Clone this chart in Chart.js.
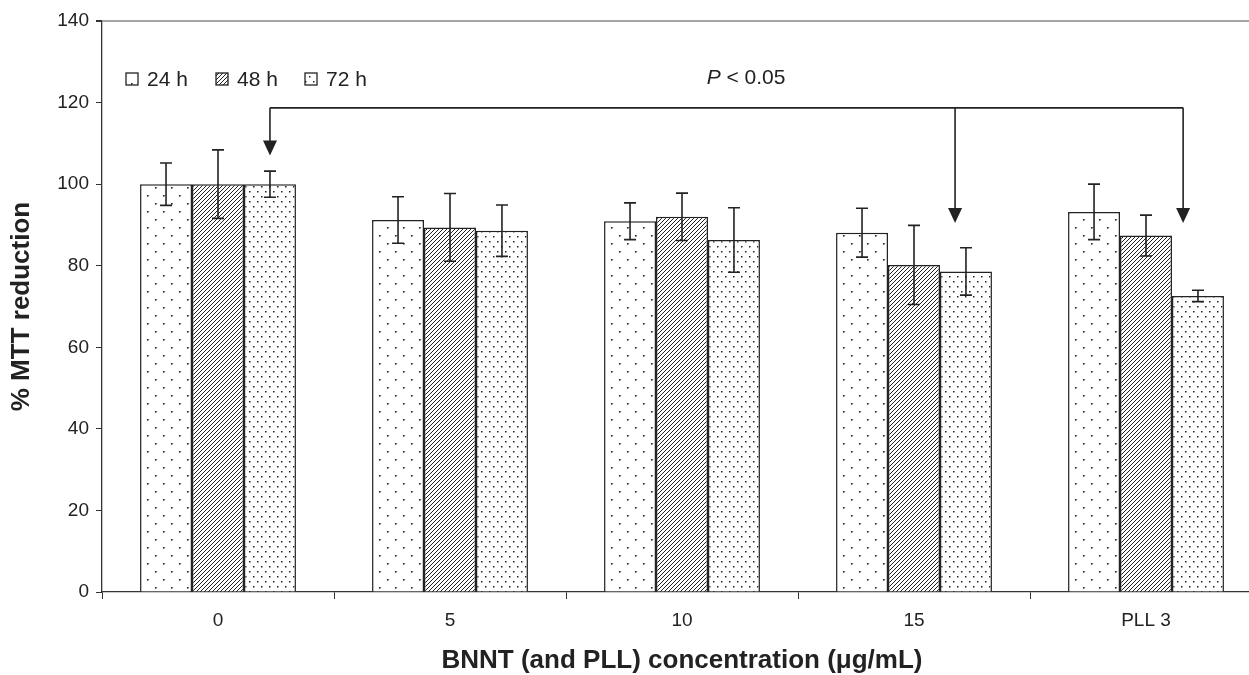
<!DOCTYPE html>
<html>
<head>
<meta charset="utf-8">
<script src="https://cdn.jsdelivr.net/npm/chart.js@4.4.1/dist/chart.umd.min.js"></script>
<style>
  html, body { margin: 0; padding: 0; background: #fff; overflow: hidden; }
  #wrap { width: 1280px; height: 676px; }
</style>
</head>
<body>
<div id="wrap"><canvas id="mttChart" width="1280" height="676"></canvas></div>
<script>
// categories and series
const concentrations = ['0', '5', '10', '15', 'PLL 3'];
const seriesLabels = ['24 h', '48 h', '72 h'];
const mtt24 = [100, 91.2, 90.9, 88.1, 93.2];
const mtt48 = [100, 89.4, 92.0, 80.2, 87.4];
const mtt72 = [100, 88.6, 86.3, 78.6, 72.6];
const err24 = [5.2, 5.7, 4.5, 6.0, 6.8];
const err48 = [8.4, 8.3, 5.8, 9.7, 5.0];
const err72 = [3.2, 6.3, 7.9, 5.8, 1.4];
const yTicks = [0, 20, 40, 60, 80, 100, 120, 140];

// significance bracket (category units / y units)
const arrowX = [0.224, 3.177, 4.16];
const arrowTip = [107, 90.5, 90.5];
const bracketY = 118.7;
const sigLabel = 'P < 0.05';

document.addEventListener("DOMContentLoaded", function () {
    const ink = '#222';
    const fam = '"Liberation Sans", Arial, sans-serif';

    const makePattern = (kind) => {
        const c = document.createElement('canvas');
        const g = c.getContext('2d');
        if (kind === 'sparse') {
            c.width = 16; c.height = 16;
            g.fillStyle = '#fff'; g.fillRect(0, 0, 16, 16);
            g.fillStyle = ink;
            g.fillRect(3, 3, 1.6, 1.6);
            g.fillRect(11, 11, 1.6, 1.6);
        } else if (kind === 'hatch') {
            c.width = 4; c.height = 4;
            g.fillStyle = '#fff'; g.fillRect(0, 0, 4, 4);
            g.strokeStyle = ink; g.lineWidth = 1.0;
            g.beginPath();
            g.moveTo(-1, 1); g.lineTo(1, -1);
            g.moveTo(0, 4); g.lineTo(4, 0);
            g.moveTo(3, 5); g.lineTo(5, 3);
            g.stroke();
        } else {
            c.width = 8; c.height = 10;
            g.fillStyle = '#fff'; g.fillRect(0, 0, 8, 10);
            g.fillStyle = ink;
            g.fillRect(1, 1, 1.5, 1.5);
            g.fillRect(5, 6, 1.5, 1.5);
        }
        return g.createPattern(c, 'repeat');
    };

    const fills = [makePattern('sparse'), makePattern('hatch'), makePattern('dense')];
    const errors = [err24, err48, err72];

    // error bars drawn over the bars
    const errorBars = {
        id: 'errorBars',
        afterDatasetsDraw(chart) {
            const ctx = chart.ctx;
            const yScale = chart.scales.y;
            ctx.save();
            ctx.strokeStyle = ink;
            ctx.lineWidth = 1.6;
            chart.data.datasets.forEach((ds, di) => {
                const meta = chart.getDatasetMeta(di);
                meta.data.forEach((bar, i) => {
                    const v = ds.data[i];
                    const e = errors[di][i];
                    const yT = yScale.getPixelForValue(v + e);
                    const yB = yScale.getPixelForValue(v - e);
                    ctx.beginPath();
                    ctx.moveTo(bar.x, yT); ctx.lineTo(bar.x, yB);
                    ctx.moveTo(bar.x - 6, yT); ctx.lineTo(bar.x + 6, yT);
                    ctx.moveTo(bar.x - 6, yB); ctx.lineTo(bar.x + 6, yB);
                    ctx.stroke();
                });
            });
            ctx.restore();
        }
    };

    // bracket with arrows and P label
    const bracket = {
        id: 'bracket',
        afterDatasetsDraw(chart) {
            const ctx = chart.ctx;
            const xs = chart.scales.x, ys = chart.scales.y;
            const yTop = ys.getPixelForValue(bracketY);
            const px = arrowX.map(v => xs.getPixelForValue(v));
            ctx.save();
            ctx.strokeStyle = ink;
            ctx.fillStyle = ink;
            ctx.lineWidth = 1.6;
            ctx.beginPath();
            ctx.moveTo(px[0], yTop); ctx.lineTo(px[px.length - 1], yTop);
            ctx.stroke();
            px.forEach((x, i) => {
                const tip = ys.getPixelForValue(arrowTip[i]);
                ctx.beginPath();
                ctx.moveTo(x, yTop); ctx.lineTo(x, tip - 12);
                ctx.stroke();
                ctx.beginPath();
                ctx.moveTo(x - 7, tip - 15); ctx.lineTo(x + 7, tip - 15); ctx.lineTo(x, tip);
                ctx.closePath();
                ctx.fill();
            });
            const lx = xs.getPixelForValue(2.276);
            const ly = ys.getPixelForValue(126);
            ctx.font = '21px ' + fam;
            ctx.textBaseline = 'middle';
            ctx.textAlign = 'left';
            const w = ctx.measureText(sigLabel).width;
            ctx.font = 'italic 21px ' + fam;
            ctx.fillText('P', lx - w / 2, ly);
            const pw = ctx.measureText('P').width;
            ctx.font = '21px ' + fam;
            ctx.fillText(sigLabel.slice(1), lx - w / 2 + pw, ly);
            ctx.restore();
        }
    };

    // legend inside the plot, top left
    const innerLegend = {
        id: 'innerLegend',
        afterDraw(chart) {
            const ctx = chart.ctx;
            const ca = chart.chartArea;
            const starts = [126, 216, 305];
            const y = ca.top + 58;
            ctx.save();
            ctx.font = '21px ' + fam;
            ctx.textBaseline = 'middle';
            seriesLabels.forEach((lab, i) => {
                const x = starts[i];
                ctx.fillStyle = fills[i];
                ctx.fillRect(x, y - 6, 12, 12);
                ctx.strokeStyle = ink;
                ctx.lineWidth = 1.3;
                ctx.strokeRect(x, y - 6, 12, 12);
                ctx.fillStyle = ink;
                ctx.fillText(lab, x + 21, y + 1);
            });
            ctx.restore();
        }
    };

    const ctx = document.getElementById('mttChart').getContext('2d');
    new Chart(ctx, {
        type: 'bar',
        data: {
            labels: concentrations,
            datasets: [mtt24, mtt48, mtt72].map((vals, i) => ({
                label: seriesLabels[i],
                data: vals,
                backgroundColor: fills[i],
                borderColor: ink,
                borderWidth: 1.5,
                borderSkipped: 'bottom',
                barPercentage: 1,
                categoryPercentage: 0.672
            }))
        },
        options: {
            responsive: false,
            animation: false,
            devicePixelRatio: 1,
            layout: { padding: { left: 0, right: 18, top: 21, bottom: 0 } },
            plugins: {
                legend: { display: false },
                tooltip: { enabled: false }
            },
            scales: {
                x: {
                    grid: { drawOnChartArea: false, offset: true, tickLength: 7, color: '#333' },
                    border: { color: '#333', width: 1.3 },
                    ticks: { color: ink, font: { size: 19, family: fam }, padding: 10 },
                    title: {
                        display: true,
                        text: 'BNNT (and PLL) concentration (μg/mL)',
                        color: ink,
                        font: { size: 26, weight: 'bold', family: fam },
                        padding: { top: 0, bottom: 0 }
                    },
                    afterFit: (scale) => { scale.height = 84; }
                },
                y: {
                    min: 0,
                    max: 140,
                    afterBuildTicks: (scale) => { scale.ticks = yTicks.map(v => ({ value: v })); },
                    grid: {
                        drawOnChartArea: true,
                        tickLength: 6,
                        tickColor: '#333',
                        color: (c) => (c.tick && c.tick.value === 140 ? '#a6a6a6' : 'rgba(0,0,0,0)'),
                        lineWidth: (c) => (c.tick && c.tick.value === 140 ? 2 : 1)
                    },
                    border: { color: '#333', width: 1.3 },
                    ticks: { color: ink, font: { size: 19, family: fam }, padding: 7 },
                    title: {
                        display: true,
                        text: '% MTT reduction',
                        color: ink,
                        font: { size: 26, weight: 'bold', family: fam },
                        padding: { top: 6, bottom: 0 }
                    },
                    afterFit: (scale) => { scale.width = 102; }
                }
            }
        },
        plugins: [errorBars, bracket, innerLegend]
    });
});
</script>
</body>
</html>
